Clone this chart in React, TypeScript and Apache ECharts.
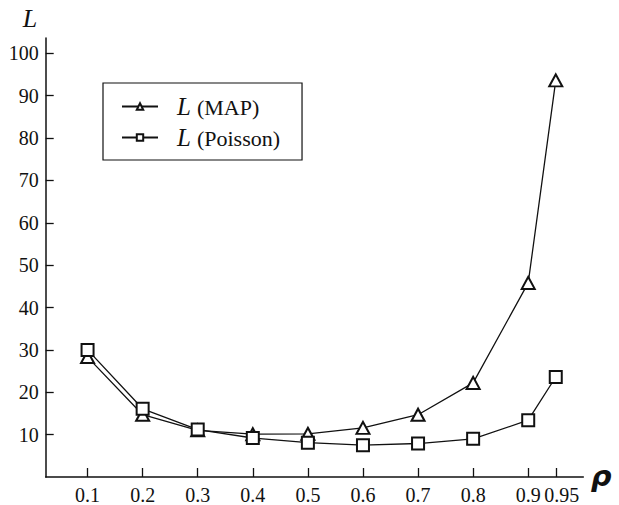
import React, { useEffect, useRef } from "react";
import * as echarts from "echarts";

const rho = [0.1, 0.2, 0.3, 0.4, 0.5, 0.6, 0.7, 0.8, 0.9, 0.95];
const mapValues = [28.3, 14.7, 11.0, 10.1, 10.2, 11.6, 14.7, 22.2, 45.8, 93.6];
const poissonValues = [30.0, 16.1, 11.2, 9.2, 8.1, 7.5, 7.9, 9.0, 13.4, 23.6];
const xTickLabels = ["0.1", "0.2", "0.3", "0.4", "0.5", "0.6", "0.7", "0.8", "0.9", "0.95"];
const yTicks = [10, 20, 30, 40, 50, 60, 70, 80, 90, 100];
const seriesNames = ["L (MAP)", "L (Poisson)"];
const seriesSuffix = ["(MAP)", "(Poisson)"];

const SERIF = "Liberation Serif";
const INK = "#111";

export default function App() {
  const ref = useRef<HTMLDivElement>(null);
  useEffect(() => {
    if (!ref.current) return;
    const chart = echarts.init(ref.current, undefined, { renderer: "svg" });
    const mk = (i: number) => rho.map((x, k) => [x, i === 0 ? mapValues[k] : poissonValues[k]]);
    const fmt = (v: number) => {
      const idx = rho.findIndex((r) => Math.abs(r - v) < 1e-6);
      return idx >= 0 ? xTickLabels[idx] : "";
    };
    const mainTicks = rho.slice(0, rho.length - 1);
    const lastTick = rho.slice(rho.length - 1);
    const xLabelBase = {
      showMinLabel: true,
      showMaxLabel: true,
      hideOverlap: false,
      margin: 8,
      color: INK,
      fontFamily: SERIF,
      fontSize: 20,
      formatter: fmt,
    };
    chart.setOption({
      animation: false,
      backgroundColor: "#fff",
      grid: { left: 45.7, right: 35.7, top: 38, bottom: 27.5, containLabel: false },
      xAxis: [
        {
          type: "value",
          min: 0.024,
          max: 1.0,
          position: "bottom",
          splitLine: { show: false },
          axisLine: { show: true, onZero: false, lineStyle: { color: INK, width: 1.5 } },
          axisTick: { show: true, inside: true, length: 9, customValues: rho, lineStyle: { color: INK, width: 1.3 } },
          axisLabel: { ...xLabelBase, customValues: mainTicks },
        },
        {
          type: "value",
          min: 0.024,
          max: 1.0,
          position: "bottom",
          offset: 0,
          splitLine: { show: false },
          axisLine: { show: false, onZero: false },
          axisTick: { show: false },
          axisLabel: {
            ...xLabelBase,
            customValues: lastTick,
            formatter: (v: number) => "{p|" + fmt(v) + "}",
            rich: { p: { fontFamily: SERIF, fontSize: 20, color: INK, width: 47, align: "right" } },
          },
        },
      ],
      yAxis: {
        type: "value",
        min: 0,
        max: 103.6,
        splitLine: { show: false },
        axisLine: { show: true, lineStyle: { color: INK, width: 1.5 } },
        axisTick: { show: true, inside: true, length: 8, customValues: yTicks, lineStyle: { color: INK, width: 1.3 } },
        axisLabel: {
          customValues: yTicks,
          showMinLabel: true,
          showMaxLabel: true,
          margin: 7,
          color: INK,
          fontFamily: SERIF,
          fontSize: 20,
        },
      },
      legend: {
        orient: "vertical",
        left: 103,
        top: 83,
        padding: [11, 22, 10, 18],
        itemGap: 6,
        itemWidth: 36,
        itemHeight: 8,
        borderColor: INK,
        borderWidth: 1.2,
        backgroundColor: "#fff",
        data: seriesNames,
        formatter: (name: string) => {
          const idx = seriesNames.indexOf(name);
          return "{i|L}{n|" + seriesSuffix[idx] + "}";
        },
        textStyle: {
          color: INK,
          rich: {
            i: { fontFamily: SERIF, fontStyle: "italic", fontSize: 25, lineHeight: 26, padding: [0, 0, 0, 14], color: INK },
            n: { fontFamily: SERIF, fontSize: 22, lineHeight: 26, padding: [2, 0, 0, 6], color: INK },
          },
        },
      },
      series: [
        {
          name: seriesNames[0],
          type: "line",
          xAxisIndex: 0,
          data: mk(0),
          symbol: "emptyTriangle",
          symbolSize: [13, 12],
          itemStyle: { color: INK, borderWidth: 1.3 },
          lineStyle: { color: INK, width: 1.3 },
        },
        {
          name: seriesNames[1],
          type: "line",
          xAxisIndex: 0,
          data: mk(1),
          symbol: "emptyRect",
          symbolSize: 12,
          itemStyle: { color: INK, borderWidth: 1.3 },
          lineStyle: { color: INK, width: 1.3 },
        },
      ],
      graphic: [
        {
          type: "text",
          x: 30,
          y: 18,
          style: { text: "L", font: "italic 26px 'Liberation Serif', serif", fill: INK, align: "center", verticalAlign: "middle" },
        },
        {
          type: "text",
          x: 601,
          y: 476,
          style: { text: "ρ", font: "italic bold 29px 'DejaVu Sans', sans-serif", fill: INK, align: "center", verticalAlign: "middle" },
        },
      ],
    });
    return () => chart.dispose();
  }, []);
  return <div ref={ref} style={{ position: "fixed", left: 0, top: 0, width: 619, height: 505 }} />;
}
